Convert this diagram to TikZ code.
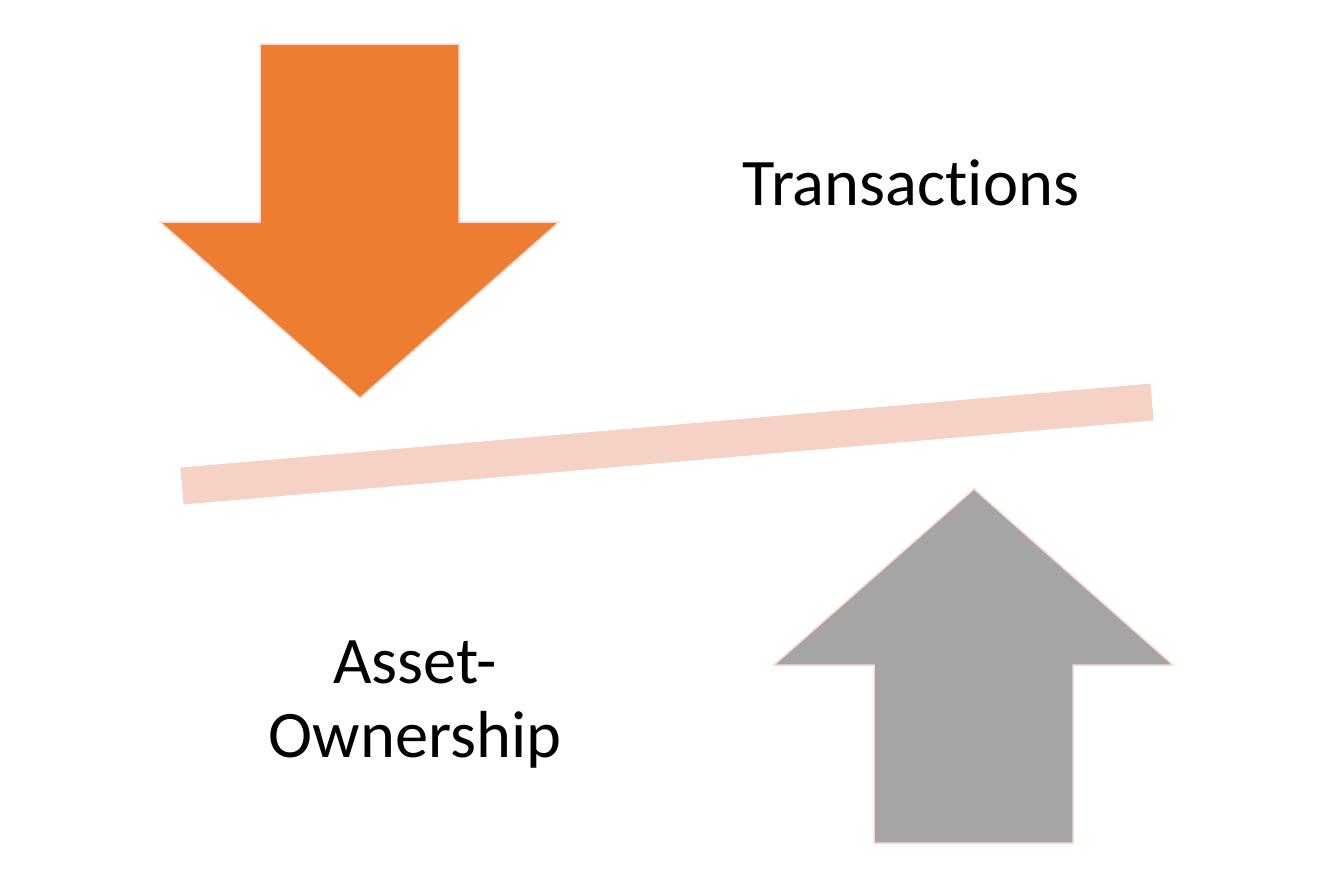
\documentclass[tikz,border=0pt]{standalone}
\usepackage{fontspec}
\setmainfont{Carlito}[Ligatures=NoCommon]
\definecolor{arroworange}{RGB}{237,125,49}
\definecolor{arrowgray}{RGB}{165,165,165}
\definecolor{edgepink}{RGB}{250,218,208}
\definecolor{barpink}{RGB}{246,210,198}
\begin{document}
\begin{tikzpicture}[x=1pt,y=-1pt,
  bigarrow/.style={draw=edgepink,line width=1.5pt,line join=miter},
  label/.style={font=\fontsize{66.5}{74}\selectfont,inner sep=0pt,align=center,anchor=base}]
\useasboundingbox (0,0) rectangle (1334,889);
\fill[white] (0,0) rectangle (1334,889);
% orange down arrow
\draw[bigarrow,fill=arroworange] (260,44) -- (459,44) -- (459,222) -- (559,222) -- (360,398) -- (160,222) -- (260,222) -- cycle;
% gray up arrow
\draw[bigarrow,fill=arrowgray] (874,843) -- (1073,843) -- (1073,665) -- (1173,665) -- (974,489) -- (774,665) -- (874,665) -- cycle;
% bar
\coordinate (barL) at (182,486);
\coordinate (barR) at (1152,402);
\draw[barpink,line width=37pt,line cap=butt] (barL) -- (barR);
% labels
\node[label] (trans) at (911,205) {Transactions};
\node[label] (asset) at (415,757) {Asset-\\Ownership};
\end{tikzpicture}
\end{document}
